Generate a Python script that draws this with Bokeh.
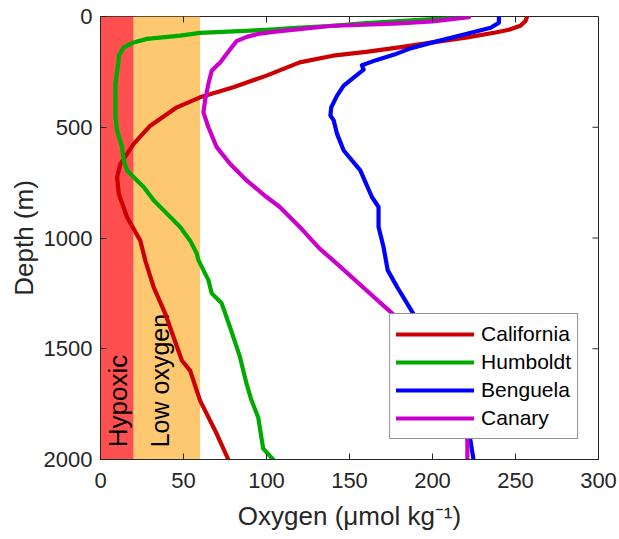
import math
from bokeh.plotting import figure
from bokeh.models import Range1d, Legend, LegendItem, FixedTicker
from bokeh.embed import file_html
from bokeh.resources import INLINE
from bokeh.core.properties import value

# ---------------- data ----------------
x_ticks = [0, 50, 100, 150, 200, 250, 300]
y_ticks = [0, 500, 1000, 1500, 2000]

hypoxic_range = [0, 20]
low_oxygen_range = [20, 60]

california_depth = [0, 20, 42, 60, 72, 94, 117, 138, 160, 177, 207, 267, 319, 365, 410, 493, 575, 665, 726, 800, 906, 1012, 1102, 1222, 1341, 1447, 1553, 1599, 1734, 1884, 2000]
california_oxy = [257, 256, 253, 246, 238, 221, 200, 181, 160, 140, 120, 100, 80, 60, 46, 30, 20, 12, 10, 11, 16, 24, 27, 32, 39, 44, 49, 54, 60, 70, 77]

humboldt_depth = [0, 12, 30, 43, 50, 60, 74, 86, 101, 117, 139, 177, 194, 304, 455, 515, 590, 650, 695, 740, 770, 830, 890, 950, 1012, 1070, 1100, 1190, 1250, 1295, 1402, 1537, 1659, 1734, 1810, 1951, 2000]
humboldt_oxy = [222, 200, 160, 138, 120, 100, 60, 48, 28, 20, 14, 11, 11, 9, 9, 10, 13, 14, 16, 22, 26, 32, 40, 48, 54, 58, 59, 65, 67, 73, 78, 84, 88, 91, 95, 98, 104]

benguela_depth = [0, 28, 51, 81, 119, 146, 172, 197, 220, 240, 258, 312, 357, 410, 447, 469, 530, 605, 695, 815, 860, 950, 1041, 1145, 1220, 1356, 1500, 1650, 1800, 1912, 2000]
benguela_oxy = [240, 240, 235, 219, 199, 186, 177, 166, 157.5, 158.5, 155.5, 146.5, 142.5, 139, 138.5, 140.5, 142.5, 146.5, 156.5, 163.5, 167.5, 167.5, 170.5, 173, 178.6, 189.6, 202, 212, 219, 222.8, 224.7]

canary_depth = [3, 22, 31, 43, 57, 66, 77, 92, 111, 149, 209, 222, 245, 304, 379, 433, 500, 590, 665, 740, 815, 860, 950, 1048, 1100, 1235, 1356, 1500, 1650, 1800, 1912, 2000]
canary_oxy = [222, 200, 180, 138, 120, 108, 96, 88, 82, 78, 72, 70, 67, 65, 63, 62, 65, 70, 78, 88, 100, 108, 120, 132, 140, 160, 178, 195, 208, 217, 221, 221]

series_names = ["California", "Humboldt", "Benguela", "Canary"]
series_colors = ["#CC0000", "#00AA00", "#0000FF", "#CC00CC"]

FONT = "Liberation Sans"
AX = "#262626"

p = figure(width=619, height=539, output_backend="svg", toolbar_location=None,
           x_range=Range1d(0, 300), y_range=Range1d(2000, 0))
p.min_border_left = 100
p.min_border_right = 21
p.min_border_top = 16
p.min_border_bottom = 80
p.background_fill_color = "white"
p.border_fill_color = "white"
p.outline_line_color = AX
p.outline_line_width = 1
p.xgrid.visible = False
p.ygrid.visible = False

# shaded zones
p.quad(left=[hypoxic_range[0]], right=[hypoxic_range[1]], bottom=[y_ticks[-1]], top=[y_ticks[0]],
       fill_color="#FF5050", line_color=None)
p.quad(left=[low_oxygen_range[0]], right=[low_oxygen_range[1]], bottom=[y_ticks[-1]], top=[y_ticks[0]],
       fill_color="#FDC870", line_color=None)

p.text(x=[10.5], y=[1945], text=["Hypoxic"], angle=math.pi / 2, text_align="left",
       text_baseline="middle", text_font=value(FONT), text_font_size="26px", text_color="black")
p.text(x=[36], y=[1945], text=["Low oxygen"], angle=math.pi / 2, text_align="left",
       text_baseline="middle", text_font=value(FONT), text_font_size="25px", text_color="black")

data = [(california_oxy, california_depth), (humboldt_oxy, humboldt_depth),
        (benguela_oxy, benguela_depth), (canary_oxy, canary_depth)]
renderers = []
for (xs, ys), c in zip(data, series_colors):
    r = p.line(xs, ys, line_color=c, line_width=4.2, line_join="round", line_cap="round")
    renderers.append(r)

# mirrored inward ticks on the top and right edges (half of each dash is clipped by the frame)
top_x = x_ticks[1:-1]
p.scatter(x=top_x, y=[y_ticks[0]] * len(top_x), marker="dash", size=12, angle=math.pi / 2,
          line_color=AX, line_width=1)
right_y = y_ticks[1:-1]
p.scatter(x=[x_ticks[-1]] * len(right_y), y=right_y, marker="dash", size=12, angle=0,
          line_color=AX, line_width=1)

# axes
def style_axis(ax):
    ax.axis_line_color = AX
    ax.major_tick_line_color = AX
    ax.major_tick_in = 6
    ax.major_tick_out = 0
    ax.minor_tick_line_color = None
    ax.major_label_text_font = FONT
    ax.major_label_text_color = AX
    ax.major_label_text_font_size = "22px"

xa = p.xaxis[0]
xa.ticker = FixedTicker(ticks=x_ticks)
style_axis(xa)
xa.major_label_standoff = 13
xa.axis_label = "Oxygen (\u03bcmol kg\u207b\u00b9)"
xa.axis_label_text_font = FONT
xa.axis_label_text_font_size = "26px"
xa.axis_label_text_font_style = "normal"
xa.axis_label_text_color = AX
xa.axis_label_standoff = 10

ya = p.yaxis[0]
ya.ticker = FixedTicker(ticks=y_ticks)
style_axis(ya)
ya.major_label_standoff = 8
ya.axis_label = "Depth (m)"
ya.axis_label_text_font = FONT
ya.axis_label_text_font_size = "26px"
ya.axis_label_text_font_style = "normal"
ya.axis_label_text_color = AX
ya.axis_label_standoff = 2

legend = Legend(items=[LegendItem(label=n, renderers=[r]) for n, r in zip(series_names, renderers)],
                location="bottom_right", margin=20)
legend.glyph_width = 78
legend.glyph_height = 28
legend.label_height = 28
legend.label_standoff = 7
legend.padding = 6
legend.spacing = 0
legend.border_line_color = AX
legend.border_line_width = 1
legend.background_fill_color = "white"
legend.background_fill_alpha = 1
legend.label_text_font = FONT
legend.label_text_font_size = "21px"
legend.label_text_color = "black"
p.add_layout(legend)

open("out.html", "w").write(file_html(p, INLINE))
